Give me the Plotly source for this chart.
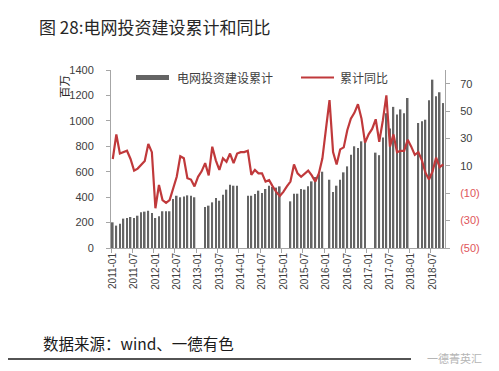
import plotly.graph_objects as go

# ---- data ----
months = [f"{y}-{m:02d}" for y in range(2011, 2019) for m in range(1, 13)][:94]

invest = [
    202, 176, 191, 231, 236, 244, 236, 254, 281, 286, 293, 275,      # 2011
    236, 249, 289, 289, 289, 385, 411, 399, 406, 414, 410, 399,      # 2012
    None, None, 322, 333, 359, 393, 372, 419, 459, 498, 490, 490,    # 2013
    None, None, 411, 411, 425, 451, 433, 464, 490, 480, 475, 485,    # 2014
    None, None, 367, 427, 427, 464, 459, 485, 524, 558, 580, 600,    # 2015
    None, 537, 440, 490, 537, 595, 642, 734, 800, 786, 839, 840,     # 2016
    None, None, 750, 730, 870, 1060, 940, 1110, 1050, 1090, 1060, 1180,  # 2017
    None, None, 983, 996, 1009, 1162, 1324, 1193, 1225, 1140,       # 2018
]

yoy = [
    15, 33, 19, 20, 21, 15, 6.5, 8, 10.5, 13.5, 26, 20,
    -21, -4, -15, -17, -15, -6, 2, 17, 15.5, 1, 0, -5,
    2, 6, 12, 3, 24, 14, 7, 15.5, 13, 19, 12, 19,
    20, 20, 21, 3.5, 7, 4.5, 4.5, -1.5, -0.5, -5, -9, -12,
    -9, -5, -1.5, 11, 4.5, 2, 4.5, 6.5, 3, -1.5, 4.5, 15.5,
    37, 58, 20, 11, 22, 23.5, 36, 44.5, 48.7, 55, 44.5, 27,
    33, 37, 44, 27.6, 43, 61.5, 24, 33, 20, 21, 21, 29,
    24, 18, 20, 14, 5, 0, 6, 16, 9, 11,
]

left_ticks = [0, 200, 400, 600, 800, 1000, 1200, 1400]
right_ticks = [-50, -30, -10, 10, 30, 50, 70]
right_text = ["(50)", "(30)", "(10)", "10", "30", "50", "70"]

bar_name = "电网投资建设累计"
line_name = "累计同比"

# ---- geometry helpers (pixel -> paper) ----
L, R, T, B = 103, 62, 62, 131
W, H = 499, 371
PW, PH = W - L - R, H - T - B


def px(x):
    return (x - L) / PW


def py(y):
    return (H - B - y) / PH


CJK = "Noto Sans CJK SC"
NUM = "Liberation Sans, Noto Sans CJK SC"
RED = "#c0393b"
NEG = "#e0555a"
AX = "#a6a6a6"
BAR = "#646464"

fig = go.Figure()
fig.add_bar(x=months, y=invest, name=bar_name, marker_color=BAR,
            marker_line_width=0, yaxis="y")
fig.add_scatter(x=months, y=yoy, name=line_name, mode="lines",
                line=dict(color=RED, width=2.2), yaxis="y2")

ticktext2 = [f"<span style='color:{NEG}'>{t}</span>" if t.startswith("(") else t
             for t in right_text]

fig.update_layout(
    width=W, height=H,
    margin=dict(l=L, r=R, t=T, b=B, pad=0),
    paper_bgcolor="white", plot_bgcolor="white",
    showlegend=False,
    bargap=0.55,
    font=dict(family=NUM, color="#404040"),
    xaxis=dict(type="category", tickmode="linear", tick0=0, dtick=6,
               tickson="boundaries", ticks="outside", ticklen=4,
               tickcolor=AX, showline=True, linecolor=AX, linewidth=1,
               tickangle=-90, tickfont=dict(size=10, color="#404040"),
               showgrid=False, range=[-0.5, 93.5]),
    yaxis=dict(range=[0, 1400], tickvals=left_ticks, ticks="outside",
               ticklen=4, tickcolor=AX, showline=True, linecolor=AX,
               showgrid=False, zeroline=False, ticklabelstandoff=10,
               tickfont=dict(size=11, color="#404040")),
    yaxis2=dict(overlaying="y", side="right", range=[-50, 80],
                tickvals=right_ticks, ticktext=ticktext2, ticks="outside",
                ticklen=4, tickcolor=AX, showline=True, linecolor=AX,
                showgrid=False, zeroline=False, ticklabelstandoff=8,
                tickfont=dict(size=11, color="#404040")),
)

shapes = [
    dict(type="rect", xref="paper", yref="paper", x0=px(128), x1=px(161),
         y0=py(72), y1=py(67), fillcolor=BAR, line_width=0),
    dict(type="line", xref="paper", yref="paper", x0=px(293), x1=px(326),
         y0=py(69.5), y1=py(69.5), line=dict(color=RED, width=2)),
    dict(type="line", xref="paper", yref="paper", x0=px(0), x1=px(403),
         y0=py(351), y1=py(351), line=dict(color="#1a1a1a", width=1.5)),
]
fig.update_layout(shapes=shapes)

ann = [
    dict(text="图 28:电网投资建设累计和同比", x=px(29), y=py(19),
         xanchor="left", yanchor="middle",
         font=dict(family=CJK, size=17, color="#262626")),
    dict(text=bar_name, x=px(167), y=py(69.5), xanchor="left", yanchor="middle",
         font=dict(family=CJK, size=12, color="#404040")),
    dict(text=line_name, x=px(330), y=py(69.5), xanchor="left", yanchor="middle",
         font=dict(family=CJK, size=12, color="#404040")),
    dict(text="百万", x=px(56), y=py(79), textangle=-90, xanchor="center",
         yanchor="middle", font=dict(family=CJK, size=11.5, color="#262626")),
    dict(text="数据来源：wind、一德有色", x=px(33), y=py(335),
         xanchor="left", yanchor="middle",
         font=dict(family=CJK, size=15.5, color="#1a1a1a")),
    dict(text="一德菁英汇", x=px(446), y=py(350), xanchor="center",
         yanchor="middle", font=dict(family=CJK, size=11, color="#b5b5b5")),
]
for a in ann:
    a.update(xref="paper", yref="paper", showarrow=False)
fig.update_layout(annotations=ann)

fig.write_html("out.html")
